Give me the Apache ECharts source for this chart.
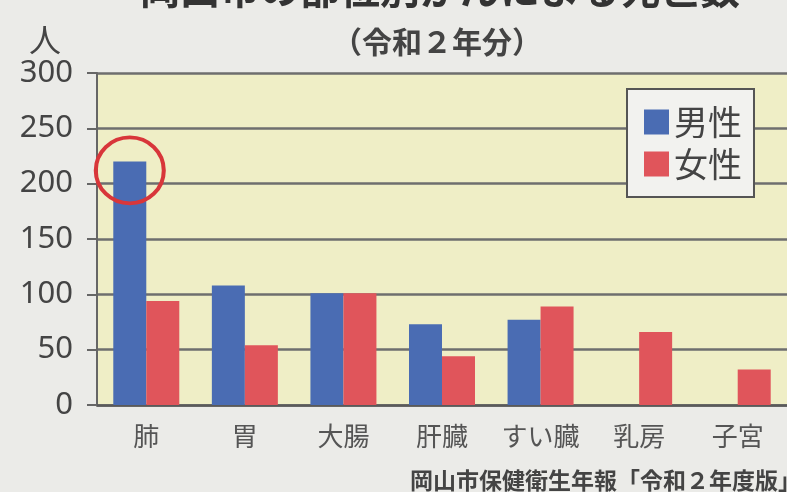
<!DOCTYPE html>
<html><head><meta charset="utf-8">
<script src="https://cdn.jsdelivr.net/npm/echarts@6/dist/echarts.min.js"></script>
<style>html,body{margin:0;padding:0;background:#ebebe8;}#c{width:787px;height:492px;}</style>
</head><body><div id="c"></div>
<script>
const categories = ['肺', '胃', '大腸', '肝臓', 'すい臓', '乳房', '子宮'];
const maleValues = [220, 108, 101, 73, 77, null, null];
const femaleValues = [94, 54, 101, 44, 89, 66, 32];
const yTicks = [0, 50, 100, 150, 200, 250, 300];
const seriesNames = ['男性', '女性'];
const titleText = '岡山市の部位別がんによる死亡数';
const subTitleText = '（令和２年分）';
const unitText = '人';
const sourceText = '岡山市保健衛生年報「令和２年度版」より';

const FONT = '"Noto Sans CJK JP", "Noto Sans", sans-serif';
const chart = echarts.init(document.getElementById('c'));
chart.setOption({
  backgroundColor: '#ebebe8',
  textStyle: { fontFamily: FONT },
  animation: false,
  grid: { left: 97, top: 73, width: 700, bottom: 87, show: true, backgroundColor: '#efeec6', borderWidth: 0 },
  legend: {
    data: seriesNames, orient: 'vertical', left: 627, top: 89,
    backgroundColor: '#f2f2ef', borderColor: '#555', borderWidth: 2,
    padding: [16, 12, 16, 17], itemWidth: 25, itemHeight: 25, itemGap: 8, icon: 'rect',
    textStyle: { fontSize: 34, color: '#444', lineHeight: 34, padding: [0, 0, 0, 0] }
  },
  xAxis: {
    type: 'category', data: categories,
    axisLine: { lineStyle: { color: '#5a5a5a', width: 2.5 } },
    axisTick: { show: false },
    axisLabel: { fontSize: 26, color: '#555', margin: 18, interval: 0 }
  },
  yAxis: {
    type: 'value', min: yTicks[0], max: yTicks[yTicks.length - 1], interval: 50,
    axisLine: { show: true, lineStyle: { color: '#666', width: 2 } },
    axisTick: { show: true, length: 10, lineStyle: { color: '#666', width: 2 } },
    splitLine: { lineStyle: { color: '#6e6e6e', width: 2.5 } },
    axisLabel: { fontSize: 31, color: '#444', margin: 24, fontFamily: '"Noto Sans", sans-serif' }
  },
  series: [
    { name: seriesNames[0], type: 'bar', data: maleValues, barWidth: 33, barGap: '0%',
      itemStyle: { color: '#4a6cb3' },
      markPoint: {
        symbol: 'circle', symbolSize: [68, 66], silent: true,
        label: { show: false },
        itemStyle: { color: 'rgba(0,0,0,0)', borderColor: '#d8363a', borderWidth: 4 },
        data: [{ coord: [0, 212] }]
      } },
    { name: seriesNames[1], type: 'bar', data: femaleValues, barWidth: 33,
      itemStyle: { color: '#e0555b' } }
  ],
  graphic: [
    { type: 'text', style: { text: titleText, x: 440, y: 9, textAlign: 'center', textVerticalAlign: 'bottom', font: 'bold 40px ' + FONT, fill: '#333' } },
    { type: 'text', style: { text: subTitleText, x: 437, y: 42, textAlign: 'center', textVerticalAlign: 'middle', font: 'bold 30px ' + FONT, fill: '#444' } },
    { type: 'text', style: { text: unitText, x: 45, y: 40, textAlign: 'center', textVerticalAlign: 'middle', font: '32px ' + FONT, fill: '#444' } },
    { type: 'text', style: { text: sourceText, x: 410, y: 480, textAlign: 'left', textVerticalAlign: 'middle', font: 'bold 23px ' + FONT, fill: '#444' } }
  ]
});
</script></body></html>
